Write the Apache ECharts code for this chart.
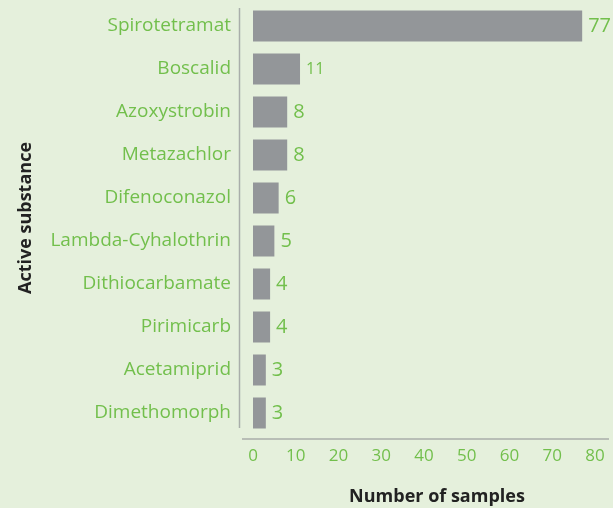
<!DOCTYPE html>
<html>
<head>
<meta charset="utf-8">
<script src="https://cdn.jsdelivr.net/npm/echarts@6/dist/echarts.min.js"></script>
<style>
  html, body { margin: 0; padding: 0; background: #e5f0dc; }
  #main { width: 613px; height: 508px; }
</style>
</head>
<body>
<div id="main"></div>
<script>
const substances = ['Spirotetramat', 'Boscalid', 'Azoxystrobin', 'Metazachlor', 'Difenoconazol',
  'Lambda-Cyhalothrin', 'Dithiocarbamate', 'Pirimicarb', 'Acetamiprid', 'Dimethomorph']
const samples = [77, 11, 8, 8, 6, 5, 4, 4, 3, 3]

const green = '#72bf4c'
const font = '"Open Sans", "Noto Sans", sans-serif'

const chart = echarts.init(document.getElementById('main'))

const option = {
  backgroundColor: '#e5f0dc',
  animation: false,
  grid: { left: 253, right: 18, top: 4.5, height: 430 },
  xAxis: {
    type: 'value',
    min: 0,
    max: 80,
    interval: 10,
    axisLine: { show: false },
    axisTick: { show: false },
    splitLine: { show: false },
    axisLabel: { color: green, fontSize: 17, fontFamily: font, margin: 13 }
  },
  yAxis: {
    type: 'category',
    data: substances,
    inverse: true,
    axisLine: { show: false },
    axisTick: { show: false },
    axisLabel: { color: green, fontSize: 19, fontFamily: font, margin: 22 }
  },
  series: [
    {
      type: 'bar',
      // the "11" label is set smaller in the original
      data: samples.map((v, i) => (i === 1 ? { value: v, label: { fontSize: 16 } } : v)),
      barWidth: 31,
      itemStyle: { color: '#939699' },
      label: {
        show: true,
        position: 'right',
        distance: 6,
        color: green,
        fontSize: 20,
        fontFamily: font
      }
    }
  ],
  graphic: [
    // axis lines drawn separately, they stick out past the grid
    { type: 'line', shape: { x1: 239.5, y1: 8, x2: 239.5, y2: 428 }, style: { stroke: '#a9aeaa', lineWidth: 1.5 } },
    { type: 'line', shape: { x1: 242, y1: 439, x2: 609, y2: 439 }, style: { stroke: '#a9aeaa', lineWidth: 1.5 } },
    {
      type: 'text', x: 437, y: 497,
      style: { text: 'Number of samples', fill: '#222', font: 'bold 18px ' + font, textAlign: 'center', textVerticalAlign: 'middle' }
    },
    {
      type: 'text', x: 26, y: 218, rotation: Math.PI / 2,
      style: { text: 'Active substance', fill: '#222', font: 'bold 18px ' + font, textAlign: 'center', textVerticalAlign: 'middle' }
    }
  ]
}

chart.setOption(option)
</script>
</body>
</html>
